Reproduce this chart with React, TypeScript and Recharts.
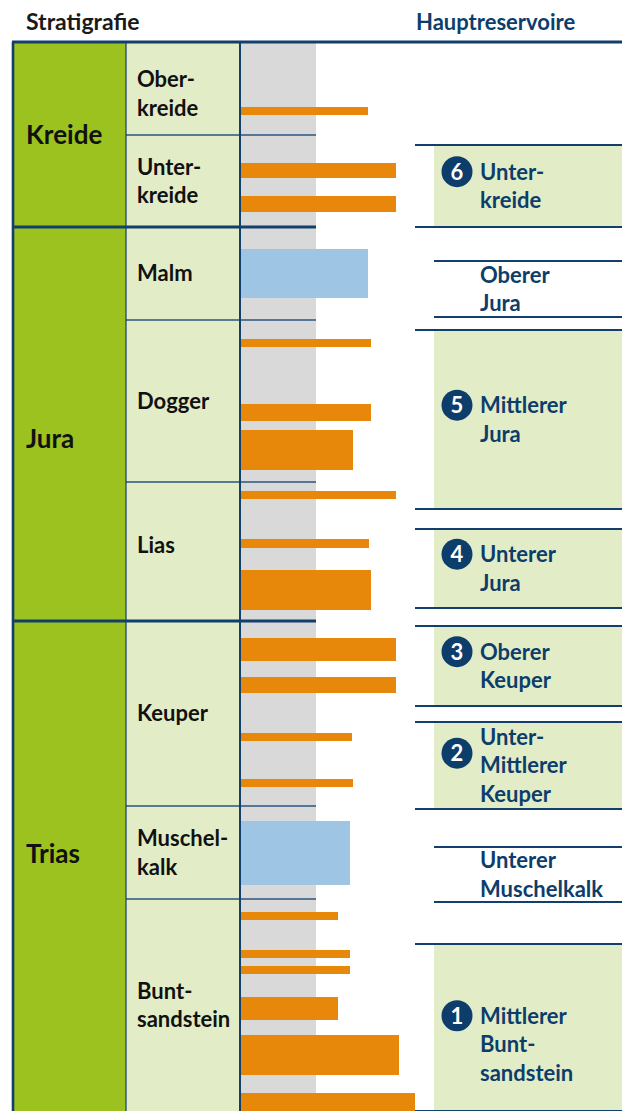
import React from 'react';
import { ComposedChart, XAxis, YAxis, ReferenceArea, ReferenceLine } from 'recharts';

// depth runs downward from the top rule of the table, extent runs right from the log column
const periods = ['Kreide', 'Jura', 'Trias'];
const periodBounds = [0, 185, 579, 1069];

const epochs = ['Ober-\nkreide', 'Unter-\nkreide', 'Malm', 'Dogger', 'Lias', 'Keuper', 'Muschel-\nkalk', 'Bunt-\nsandstein'];
const epochBounds = [0, 93, 185, 278, 440, 579, 764, 857, 1069];

// sandstone beds (orange)
const sandTop = [65, 121, 154, 297, 362, 388, 449, 497, 528, 596, 635, 691, 737, 870, 908, 924, 955, 993, 1051];
const sandBase = [73, 136, 170, 305, 379, 428, 457, 506, 568, 619, 651, 699, 745, 878, 916, 932, 978, 1033, 1069];
const sandExtent = [128, 156, 156, 131, 131, 113, 156, 129, 131, 156, 156, 112, 113, 98, 110, 110, 98, 159, 175];

// carbonate beds (blue)
const limeTop = [207, 779];
const limeBase = [256, 843];
const limeExtent = [128, 110];

const reservoirNames = [
  'Unter-\nkreide',
  'Oberer\nJura',
  'Mittlerer\nJura',
  'Unterer\nJura',
  'Oberer\nKeuper',
  'Unter-\nMittlerer\nKeuper',
  'Unterer\nMuschelkalk',
  'Mittlerer\nBunt-\nsandstein',
];
const reservoirNumbers = [6, null, 5, 4, 3, 2, null, 1];
const reservoirTop = [103, 219, 288, 487, 584, 680, 805, 902];
const reservoirBase = [185, 275, 467, 566, 664, 767, 860, 1069];

const FONT = 'Lato, "Noto Sans", sans-serif';
const INK = '#0d3d6b';
const RULE = '#123f6b';
const PERIOD_FILL = '#9bc21e';
const EPOCH_FILL = '#e2edc8';
const BAND_FILL = '#d9d9d9';
const SAND = '#e8880a';
const LIME = '#9fc5e5';

// column edges in extent units
const COL_LEFT = -227;
const COL_MID = -114;
const BAND_END = 76;
const RES_RULE = 175;
const RES_BOX = 194;
const RIGHT = 382;

const periodNudge: Record<string, number> = { Kreide: 0, Jura: 15, Trias: -12 };
const epochNudge: Record<string, number> = { 'Ober-\nkreide': 5, Lias: -6 };

const StackText = ({ x, cy, text, size, lh, color, nudge = 0, weight = 700 }: any) => {
  const lines = text.split('\n');
  const cap = size * 0.72;
  const first = cy + nudge - ((lines.length - 1) * lh) / 2 + cap / 2;
  return (
    <text x={x} y={first} fontFamily={FONT} fontSize={size} fontWeight={weight} fill={color}>
      {lines.map((l: string, i: number) => (
        <tspan key={i} x={x} y={first + i * lh}>
          {l}
        </tspan>
      ))}
    </text>
  );
};

const App = () => {
  const W = 622;
  const H = 1111;

  return (
    <div style={{ position: 'absolute', left: 0, top: 0, width: W, height: H, background: '#fff' }}>
      <ComposedChart width={W} height={H} margin={{ top: 0, right: 0, bottom: 0, left: 0 }} data={[]}>
        <XAxis type="number" dataKey="x" domain={[-240, 382]} hide allowDataOverflow />
        <YAxis type="number" dataKey="y" domain={[-42, 1069]} reversed hide allowDataOverflow />

        {/* headers */}
        <ReferenceArea
          x1={COL_LEFT}
          x2={BAND_END}
          y1={-42}
          y2={0}
          ifOverflow="visible"
          shape={(p: any) => (
            <text x={p.x + 13} y={p.y + 30} fontFamily={FONT} fontSize={23} fontWeight={700} fill="#1a1a1a">
              Stratigrafie
            </text>
          )}
        />
        <ReferenceArea
          x1={RES_RULE}
          x2={RIGHT}
          y1={-42}
          y2={0}
          ifOverflow="visible"
          shape={(p: any) => (
            <text x={p.x + 1} y={p.y + 30} fontFamily={FONT} fontSize={22} fontWeight={700} fill={INK}>
              Hauptreservoire
            </text>
          )}
        />

        {/* period column */}
        {periods.map((name, i) => (
          <ReferenceArea
            key={name}
            x1={COL_LEFT}
            x2={COL_MID}
            y1={periodBounds[i]}
            y2={periodBounds[i + 1]}
            ifOverflow="visible"
            shape={(p: any) => (
              <g>
                <rect x={p.x} y={p.y} width={p.width} height={p.height} fill={PERIOD_FILL} />
                <StackText x={p.x + 13} cy={p.y + p.height / 2} text={name} size={26} lh={30} color="#111" nudge={periodNudge[name]} />
              </g>
            )}
          />
        ))}

        {/* epoch column */}
        {epochs.map((name, i) => (
          <ReferenceArea
            key={name}
            x1={COL_MID}
            x2={0}
            y1={epochBounds[i]}
            y2={epochBounds[i + 1]}
            ifOverflow="visible"
            shape={(p: any) => (
              <g>
                <rect x={p.x} y={p.y} width={p.width} height={p.height} fill={EPOCH_FILL} />
                <StackText x={p.x + 11} cy={p.y + p.height / 2} text={name} size={22} lh={28.5} color="#111" nudge={epochNudge[name] || 0} />
              </g>
            )}
          />
        ))}

        {/* grey log band */}
        <ReferenceArea x1={0} x2={BAND_END} y1={0} y2={1069} fill={BAND_FILL} fillOpacity={1} stroke="none" ifOverflow="visible" />

        {/* beds */}
        {sandTop.map((t, i) => (
          <ReferenceArea key={`s${i}`} x1={0} x2={sandExtent[i]} y1={t} y2={sandBase[i]} fill={SAND} fillOpacity={1} stroke="none" ifOverflow="visible" />
        ))}
        {limeTop.map((t, i) => (
          <ReferenceArea key={`l${i}`} x1={0} x2={limeExtent[i]} y1={t} y2={limeBase[i]} fill={LIME} fillOpacity={1} stroke="none" ifOverflow="visible" />
        ))}

        {/* reservoirs */}
        {reservoirNames.map((name, i) => {
          const num = reservoirNumbers[i];
          const filled = num !== null;
          return (
            <ReferenceArea
              key={name}
              x1={RES_BOX}
              x2={RIGHT}
              y1={reservoirTop[i]}
              y2={reservoirBase[i]}
              ifOverflow="visible"
              shape={(p: any) => {
                const lines = name.split('\n');
                const size = 22;
                const lh = 28.7;
                const nudge = num === 1 ? 17 : 0;
                const cap = size * 0.72;
                const cy = p.y + p.height / 2 + nudge;
                const firstMid = cy - ((lines.length - 1) * lh) / 2;
                const badgeY = num === 2 ? firstMid + lh / 2 + 2 : firstMid;
                return (
                  <g>
                    {filled && <rect x={p.x} y={p.y} width={p.width} height={p.height} fill={EPOCH_FILL} />}
                    <StackText x={p.x + 46} cy={p.y + p.height / 2} text={name} size={size} lh={lh} color={INK} nudge={nudge} />
                    {filled && (
                      <g>
                        <circle cx={p.x + 23} cy={badgeY} r={15.5} fill={INK} />
                        <text
                          x={p.x + 23}
                          y={badgeY + cap / 2}
                          textAnchor="middle"
                          fontFamily={FONT}
                          fontSize={size}
                          fontWeight={700}
                          fill="#fff"
                        >
                          {num}
                        </text>
                      </g>
                    )}
                  </g>
                );
              }}
            />
          );
        })}

        {/* reservoir rules */}
        {reservoirNames.map((name, i) => {
          const start = reservoirNumbers[i] !== null ? RES_RULE : RES_BOX;
          return [reservoirTop[i], reservoirBase[i]].map((d, k) => (
            <ReferenceLine
              key={`r${i}-${k}`}
              segment={[{ x: start, y: d }, { x: RIGHT, y: d }]}
              stroke={RULE}
              strokeWidth={1.8}
              ifOverflow="visible"
            />
          ));
        })}

        {/* epoch rules */}
        {epochBounds.slice(1, -1).filter((d) => !periodBounds.includes(d)).map((d) => (
          <ReferenceLine key={`e${d}`} segment={[{ x: COL_MID, y: d }, { x: BAND_END, y: d }]} stroke="#2a5580" strokeWidth={1.4} ifOverflow="visible" />
        ))}

        {/* vertical rules */}
        <ReferenceLine segment={[{ x: COL_MID, y: 0 }, { x: COL_MID, y: 1069 }]} stroke={RULE} strokeWidth={1.2} ifOverflow="visible" />
        <ReferenceLine segment={[{ x: 0, y: 0 }, { x: 0, y: 1069 }]} stroke={RULE} strokeWidth={2} ifOverflow="visible" />
        <ReferenceLine segment={[{ x: COL_LEFT, y: 0 }, { x: COL_LEFT, y: 1069 }]} stroke={RULE} strokeWidth={2.6} ifOverflow="visible" />

        {/* period rules */}
        {periodBounds.slice(1, -1).map((d) => (
          <ReferenceLine key={`p${d}`} segment={[{ x: COL_LEFT, y: d }, { x: BAND_END, y: d }]} stroke={RULE} strokeWidth={2.8} ifOverflow="visible" />
        ))}
        <ReferenceLine segment={[{ x: COL_LEFT - 1, y: 0 }, { x: RIGHT, y: 0 }]} stroke={RULE} strokeWidth={2.8} ifOverflow="visible" />
      </ComposedChart>
    </div>
  );
};

export default App;
